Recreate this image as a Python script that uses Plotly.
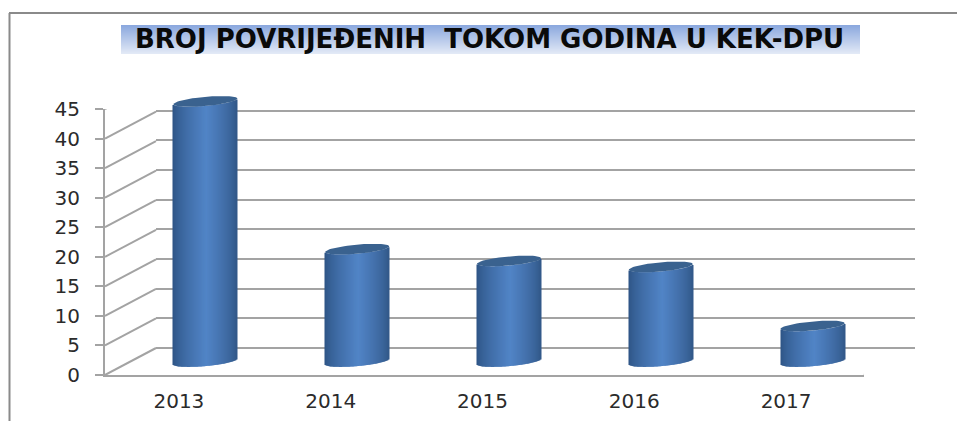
import math
import plotly.graph_objects as go

years = ["2013", "2014", "2015", "2016", "2017"]
injured = [44, 19, 17, 16, 6]
y_ticks = [0, 5, 10, 15, 20, 25, 30, 35, 40, 45]
title = "BROJ POVRIJEĐENIH\u00a0\u00a0TOKOM GODINA U KEK-DPU"

W, H = 957, 421
GRID = "#a3a3a3"
TEXT = "#2b2b2b"
positions = list(range(len(years)))


def dom_x(a, b):
    return [a / W, b / W]


def dom_y(bottom, top):
    return [1 - bottom / H, 1 - top / H]


def mix(c1, c2, t):
    return "rgb(%d,%d,%d)" % tuple(round(a + (b - a) * t) for a, b in zip(c1, c2))


fig = go.Figure()

# back wall (gridlines only)
fig.add_trace(go.Scatter(x=[None], y=[None], xaxis="x", yaxis="y", hoverinfo="skip"))

# cylinders, in the plane halfway through the depth of the floor
CAT_PX = 151.8
UNIT_PX = 266 / 45
half = 32 / CAT_PX
strips = 64
step = 2 * half / strips
tilt = 2.8 / UNIT_PX
semi = 4.6 / UNIT_PX
LOW = -3
dark_l, dark_r, mid = (44, 82, 130), (48, 86, 134), (81, 132, 198)
for k in range(strips):
    u = -1 + (k + 0.5) * 2 / strips
    if u < 0.05:
        t = ((u + 1) / 1.05) ** 0.7
        col = mix(dark_l, mid, t)
    else:
        t = ((1 - u) / 0.95) ** 0.7
        col = mix(dark_r, mid, t)
    edge = -semi * math.sqrt(max(0, 1 - u * u)) + tilt * u
    fig.add_trace(go.Bar(
        x=positions, y=injured, base=[edge] * len(years),
        offset=u * half - step / 2, width=step * 1.1,
        marker=dict(color=col, line=dict(width=0)),
        cliponaxis=False, xaxis="x2", yaxis="y2", hoverinfo="skip",
    ))

# top caps of the cylinders
angles = [i * 2 * math.pi / 60 for i in range(61)]
for p, v in zip(positions, injured):
    fig.add_trace(go.Scatter(
        x=[p + half * math.cos(a) for a in angles],
        y=[v + semi * math.sin(a) + tilt * math.cos(a) for a in angles],
        mode="lines", fill="toself", fillcolor="#3a628f",
        line=dict(width=0, color="#3a628f"),
        cliponaxis=False, xaxis="x2", yaxis="y2", hoverinfo="skip",
    ))

# side wall and floor edges on the front plane
depth_x = 51 / CAT_PX
depth_y = 27 / UNIT_PX
left = -0.5
right = len(years) - 0.5
wx, wy = [], []
for v in y_ticks:
    wx += [left, left + depth_x, None]
    wy += [v, v + depth_y, None]
wx += [right, right + depth_x, None, left, left]
wy += [0, depth_y, None, 0, -1]
fig.add_trace(go.Scatter(
    x=wx, y=wy, mode="lines", line=dict(color=GRID, width=2),
    cliponaxis=False, xaxis="x3", yaxis="y3", hoverinfo="skip",
))

# title band with vertical gradient
shapes = []
t_top, t_bot = 25, 54
for i in range(t_bot - t_top):
    shapes.append(dict(
        type="rect", xref="paper", yref="paper", layer="below",
        x0=121 / W, x1=860 / W, y0=1 - (t_top + i) / H, y1=1 - (t_top + i + 1) / H,
        fillcolor=mix((139, 168, 222), (226, 233, 246), i / (t_bot - t_top - 1)),
        line=dict(width=0),
    ))
# outer frame
shapes.append(dict(type="line", xref="paper", yref="paper",
                   x0=9.5 / W, x1=9.5 / W, y0=0, y1=1 - 13 / H,
                   line=dict(color="#8a8a8a", width=2)))
shapes.append(dict(type="line", xref="paper", yref="paper",
                   x0=9 / W, x1=1, y0=1 - 13 / H, y1=1 - 13 / H,
                   line=dict(color="#8a8a8a", width=2)))

plain = dict(showgrid=False, zeroline=False, showticklabels=False, ticks="", showline=False)
fig.update_layout(
    template="none",
    width=W, height=H, margin=dict(l=0, r=0, t=0, b=0, pad=0),
    paper_bgcolor="white", plot_bgcolor="rgba(0,0,0,0)",
    showlegend=False, barmode="overlay", shapes=shapes,
    annotations=[dict(
        text="<b>%s</b>" % title, xref="paper", yref="paper",
        x=489.5 / W, y=1 - 39.5 / H, xanchor="center", yanchor="middle",
        showarrow=False, font=dict(family="DejaVu Sans", size=26, color="#0a0a0a"),
    )],
    xaxis=dict(domain=dom_x(156, 915), range=[left, right], automargin=False, **plain),
    yaxis=dict(domain=dom_y(348 + 3 * UNIT_PX, 81), range=[LOW, 45], anchor="x", automargin=False,
               showgrid=True, tickmode="array", tickvals=y_ticks, gridcolor=GRID, gridwidth=2,
               zeroline=False, showticklabels=False, ticks="", showline=False),
    xaxis2=dict(domain=dom_x(129.5, 888.5), range=[left, right], anchor="y2", automargin=False, **plain),
    yaxis2=dict(domain=dom_y(361.5 + 3 * UNIT_PX, 95.5), range=[LOW, 45], anchor="x2", automargin=False, **plain),
    xaxis3=dict(domain=dom_x(105, 864), range=[left, right], anchor="y3", automargin=False,
                tickmode="array", tickvals=positions, ticktext=years,
                showgrid=False, zeroline=False, showline=True, linecolor=GRID, linewidth=2,
                ticks="outside", ticklen=7, tickcolor="rgba(0,0,0,0)", tickwidth=1,
                ticklabelshift=-2,
                tickfont=dict(family="DejaVu Sans", size=20, color=TEXT)),
    yaxis3=dict(domain=dom_y(375, 109), range=[0, 45], anchor="x3", automargin=False,
                tickmode="array", tickvals=y_ticks, ticktext=[str(v) for v in y_ticks],
                showgrid=False, zeroline=False, showline=True, linecolor=GRID, linewidth=2,
                ticks="outside", ticklen=8, tickcolor=GRID, tickwidth=2,
                ticklabelstandoff=11,
                tickfont=dict(family="DejaVu Sans", size=20, color=TEXT)),
)

fig.write_html("out.html", config={"displayModeBar": False},
               post_script="document.body.style.margin='0';document.body.style.overflow='hidden';")
